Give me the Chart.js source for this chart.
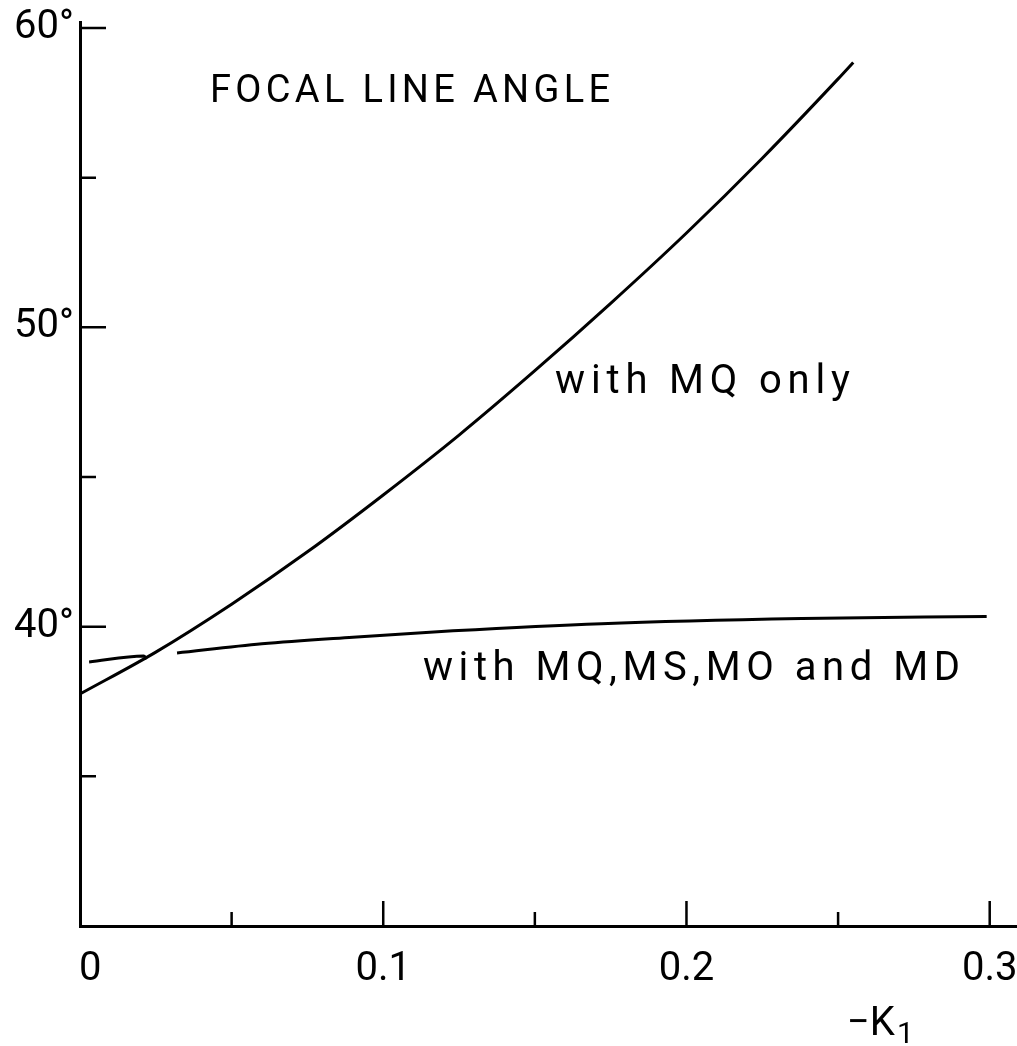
<!DOCTYPE html>
<html>
<head>
<meta charset="utf-8">
<title>Focal line angle</title>
<script src="https://cdn.jsdelivr.net/npm/chart.js@4.4.1/dist/chart.umd.min.js"></script>
<style>
  html, body { margin: 0; padding: 0; background: #fff; }
</style>
</head>
<body>
<canvas id="chart" width="1017" height="1046"></canvas>
<script>
// -K1 and focal line angle (deg)
const mqOnlyK     = [0, 0.025, 0.05, 0.075, 0.1, 0.125, 0.15, 0.175, 0.2, 0.225, 0.25, 0.255];
const mqOnlyAngle = [37.75, 39.15, 40.75, 42.5, 44.4, 46.4, 48.55, 50.8, 53.15, 55.65, 58.3, 58.85];

// second curve has a short piece near the origin, then a gap
const allMagK     = [0.003, 0.021, 0.022, 0.027, 0.032, 0.06, 0.09, 0.123, 0.172, 0.238, 0.299];
const allMagAngle = [38.82, 39.02, 38.92, null, 39.12, 39.43, 39.65, 39.86, 40.1, 40.27, 40.34];

// axis ticks
const yLabelValues = [40, 50, 60];
const yLabelText   = ['40°', '50°', '60°'];
const yMinorTicks  = [35, 45, 55];
const xLabelValues = [0, 0.1, 0.2, 0.3];
const xLabelText   = ['\u20020', '0.1', '0.2', '0.3'];
const xMinorTicks  = [0.05, 0.15, 0.25];

const FONT = 'Roboto, "DejaVu Sans", sans-serif';

function labelFor(values, texts, v) {
    const i = values.findIndex(t => Math.abs(t - v) < 1e-6);
    return i < 0 ? '' : texts[i];
}

// stretch text to a given width with letter spacing
function fitText(ctx, text, x, y, width) {
    ctx.letterSpacing = '0px';
    const w = ctx.measureText(text).width;
    ctx.letterSpacing = ((width - w) / (text.length - 1)) + 'px';
    ctx.fillText(text, x, y);
    ctx.letterSpacing = '0px';
}

// inward tick marks and free text
const decorations = {
    id: 'decorations',
    afterDraw(chart) {
        const { ctx, chartArea, scales: { x, y } } = chart;
        ctx.save();
        ctx.strokeStyle = '#000';
        ctx.lineWidth = 2.5;
        ctx.beginPath();
        yLabelValues.forEach(v => {
            const py = y.getPixelForValue(v);
            ctx.moveTo(chartArea.left, py);
            ctx.lineTo(chartArea.left + 26, py);
        });
        yMinorTicks.forEach(v => {
            const py = y.getPixelForValue(v);
            ctx.moveTo(chartArea.left, py);
            ctx.lineTo(chartArea.left + 16, py);
        });
        xLabelValues.slice(1).forEach(v => {
            const px = x.getPixelForValue(v);
            ctx.moveTo(px, chartArea.bottom);
            ctx.lineTo(px, chartArea.bottom - 25);
        });
        xMinorTicks.forEach(v => {
            const px = x.getPixelForValue(v);
            ctx.moveTo(px, chartArea.bottom);
            ctx.lineTo(px, chartArea.bottom - 14);
        });
        ctx.stroke();

        ctx.fillStyle = '#000';
        ctx.textBaseline = 'alphabetic';
        ctx.textAlign = 'left';
        ctx.font = '38px ' + FONT;
        fitText(ctx, 'FOCAL LINE ANGLE', 210, 102, 400);
        ctx.font = '40px ' + FONT;
        fitText(ctx, 'with MQ only', 555, 393, 295);
        fitText(ctx, 'with MQ,MS,MO and MD', 423, 680, 537);

        // axis title -K1
        ctx.font = '40px ' + FONT;
        ctx.fillText('\u2212K', 847, 1035);
        ctx.font = '30px ' + FONT;
        ctx.fillText('1', 897, 1043);
        ctx.restore();
    }
};

new Chart(document.getElementById('chart'), {
    type: 'line',
    data: {
        datasets: [{
            label: 'with MQ only',
            data: mqOnlyK.map((k, i) => ({ x: k, y: mqOnlyAngle[i] })),
            borderColor: '#000',
            borderWidth: 3,
            pointRadius: 0,
            cubicInterpolationMode: 'monotone'
        }, {
            label: 'with MQ, MS, MO and MD',
            data: allMagK.map((k, i) => ({ x: k, y: allMagAngle[i] })),
            borderColor: '#000',
            borderWidth: 3,
            pointRadius: 0,
            spanGaps: false,
            cubicInterpolationMode: 'monotone'
        }]
    },
    options: {
        responsive: false,
        animation: false,
        layout: { padding: { top: 22, right: 0, left: 0, bottom: 0 } },
        plugins: {
            legend: { display: false },
            tooltip: { enabled: false }
        },
        scales: {
            x: {
                type: 'linear',
                min: 0,
                max: 0.309,
                grid: { display: false, drawTicks: false },
                border: { display: true, color: '#000', width: 3 },
                ticks: {
                    stepSize: 0.05,
                    includeBounds: false,
                    autoSkip: false,
                    maxRotation: 0,
                    padding: 20,
                    color: '#000',
                    font: { family: FONT, size: 40 },
                    callback: v => labelFor(xLabelValues, xLabelText, v)
                },
                afterFit: s => { s.height = 120; s.paddingLeft = 0; s.paddingRight = 0; }
            },
            y: {
                min: 30,
                max: 60.2,
                grid: { display: false, drawTicks: false },
                border: { display: true, color: '#000', width: 3 },
                ticks: {
                    stepSize: 5,
                    includeBounds: false,
                    autoSkip: false,
                    padding: 6,
                    color: '#000',
                    font: { family: FONT, size: 40 },
                    callback: v => labelFor(yLabelValues, yLabelText, v)
                },
                afterFit: s => { s.width = 80; s.paddingTop = 0; s.paddingBottom = 0; }
            }
        }
    },
    plugins: [decorations]
});
</script>
</body>
</html>
